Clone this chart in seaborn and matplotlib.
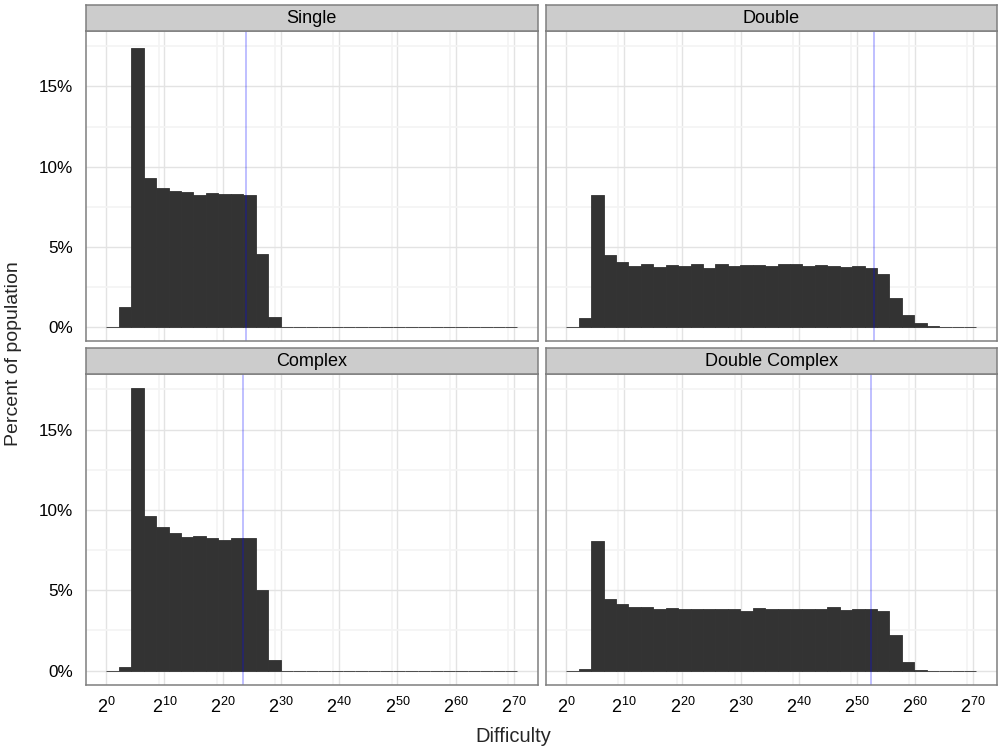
import numpy as np
import pandas as pd
import matplotlib
matplotlib.use("Agg")
import matplotlib.pyplot as plt
import seaborn as sns

sns.set_style("white")
plt.rcParams["font.family"] = ["Liberation Sans", "DejaVu Sans"]
plt.rcParams["mathtext.fontset"] = "custom"
plt.rcParams["mathtext.rm"] = "Liberation Sans"
plt.rcParams["mathtext.it"] = "Liberation Sans"
plt.rcParams["mathtext.default"] = "regular"

# ---------------- data ----------------
panels = ["Single", "Double", "Complex", "Double Complex"]
bin_width = 2.14          # log2 difficulty units per bin
n_bins = 33

single = [0, 1.26, 17.38, 9.32, 8.64, 8.45, 8.39, 8.22, 8.33, 8.26, 8.26, 8.22, 4.55, 0.64,
          0, 0, 0, 0, 0, 0, 0, 0, 0, 0, 0, 0, 0, 0, 0, 0, 0, 0, 0]
double = [0, 0.58, 8.20, 4.48, 4.05, 3.82, 3.93, 3.76, 3.86, 3.82, 3.93, 3.70, 3.93, 3.82,
          3.86, 3.86, 3.82, 3.93, 3.93, 3.82, 3.86, 3.82, 3.76, 3.82, 3.70, 3.31, 1.82, 0.72,
          0.23, 0.08, 0.02, 0, 0]
complex_ = [0, 0.25, 17.58, 9.63, 8.94, 8.57, 8.32, 8.39, 8.26, 8.14, 8.26, 8.26, 5.03, 0.68,
            0, 0, 0, 0, 0, 0, 0, 0, 0, 0, 0, 0, 0, 0, 0, 0, 0, 0, 0]
double_complex = [0, 0.12, 8.07, 4.47, 4.16, 3.98, 3.98, 3.85, 3.91, 3.85, 3.85, 3.85, 3.85,
                  3.85, 3.73, 3.91, 3.85, 3.85, 3.85, 3.85, 3.85, 3.98, 3.79, 3.85, 3.85, 3.73,
                  2.24, 0.56, 0.04, 0, 0, 0, 0]
vlines = [24.0, 53.0, 23.5, 52.5]   # log2 of reference difficulty per panel

x_breaks = [0, 10, 20, 30, 40, 50, 60, 70]
x_labels = [r"$2^{%d}$" % b for b in x_breaks]
x_minor = [9, 19, 29, 39, 49, 59, 69]
y_breaks = [0, 5, 10, 15]
y_labels = ["0%", "5%", "10%", "15%"]
y_minor = [2.5, 7.5, 12.5, 17.5]

series = [single, double, complex_, double_complex]
edges = np.arange(n_bins + 1) * bin_width
centers = (edges[:-1] + edges[1:]) / 2
df = pd.concat([pd.DataFrame({"panel": p, "x": centers, "pct": v})
                for p, v in zip(panels, series)], ignore_index=True)

# ---------------- layout ----------------
W, H = 998, 753
fig = plt.figure(figsize=(W / 100, H / 100), dpi=100)
fig.patch.set_facecolor("white")

lefts = [85.7, 545.7]
rights = [538, 997]
tops = [31, 374]
bottoms = [341, 684.7]
strip_h = 26.4

ymax_data = max(max(s) for s in series)
xlo, xhi = edges[0], edges[-1]
xpad = 0.05 * (xhi - xlo)
ypad = 0.05 * ymax_data

grey50 = "#7f7f7f"
for i, p in enumerate(panels):
    r, c = divmod(i, 2)
    l, rr = lefts[c], rights[c]
    t, b = tops[r], bottoms[r]
    ax = fig.add_axes([l / W, 1 - b / H, (rr - l) / W, (b - t) / H])
    sub = df[df["panel"] == p]
    sns.histplot(data=sub, x="x", weights="pct", bins=edges.tolist(), ax=ax,
                 color="#333333", alpha=1, edgecolor="#333333", linewidth=0.6, zorder=2)
    ax.axvline(vlines[i], color="blue", alpha=0.27, lw=1.3, zorder=3)
    ax.set_xlim(xlo - xpad, xhi + xpad)
    ax.set_ylim(-ypad, ymax_data + ypad)
    ax.set_xticks(x_breaks)
    ax.set_xticks(x_minor, minor=True)
    ax.set_yticks(y_breaks)
    ax.set_yticks(y_minor, minor=True)
    ax.grid(which="major", color="#e3e3e3", lw=1.0, zorder=0)
    ax.grid(which="minor", color="#f4f4f4", lw=1.2, zorder=0)
    ax.set_axisbelow(True)
    ax.set_xlabel("")
    ax.set_ylabel("")
    for s in ax.spines.values():
        s.set_color(grey50)
        s.set_linewidth(1.1)
        s.set_zorder(5)
    ax.tick_params(which="minor", length=0)
    ax.tick_params(which="major", length=5.3, width=0.8, color="#555555",
                   labelsize=12.3, labelcolor="black", pad=3.5)
    if r == 1:
        ax.set_xticklabels(x_labels)
        for lab in ax.get_xticklabels():
            lab.set_fontsize(13)
    else:
        ax.tick_params(axis="x", which="major", length=0, labelbottom=False)
    if c == 0:
        ax.set_yticklabels(y_labels)
    else:
        ax.tick_params(axis="y", which="major", length=0, labelleft=False)

    # facet strip
    sax = fig.add_axes([l / W, 1 - t / H, (rr - l) / W, strip_h / H])
    sax.set_facecolor("#cccccc")
    sax.set_xticks([])
    sax.set_yticks([])
    for s in sax.spines.values():
        s.set_color(grey50)
        s.set_linewidth(1.1)
    sax.text(0.5, 0.46, p, ha="center", va="center", fontsize=13, color="black",
             transform=sax.transAxes)

fig.text(513 / W, 1 - 736 / H, "Difficulty", ha="center",
         va="center", fontsize=14.5)
fig.text(14 / W, 1 - 354 / H, "Percent of population", ha="center", va="center",
         rotation=90, fontsize=14)

fig.savefig("out.png", dpi=100, facecolor="white")
